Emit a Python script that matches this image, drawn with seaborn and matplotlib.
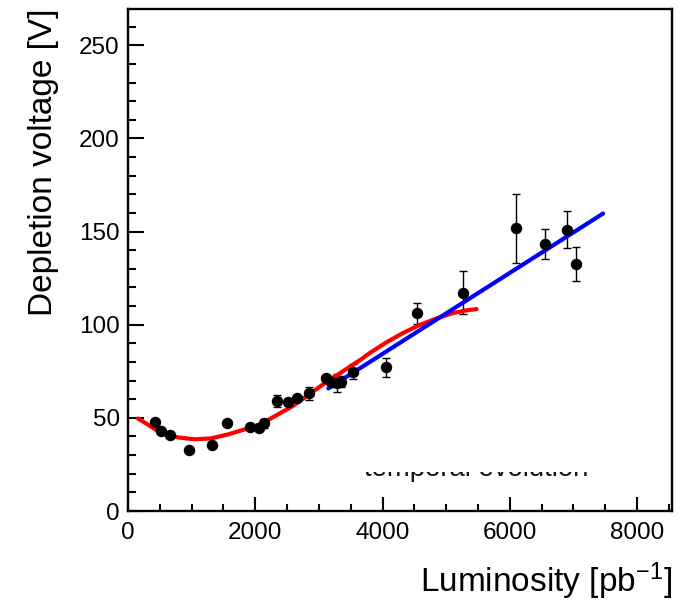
import numpy as np
import pandas as pd
import matplotlib
matplotlib.use("Agg")
import matplotlib.pyplot as plt
import seaborn as sns
from matplotlib.ticker import MultipleLocator
from matplotlib.transforms import Bbox, TransformedBbox

# ---- data ----
lumi = [419, 514, 655, 954, 1320, 1560, 1921, 2058, 2137, 2345, 2518, 2650,
        2848, 3106, 3189, 3288, 3346, 3539, 4053, 4535, 5267, 6106, 6551, 6897, 7038]
vdep = [47.9, 43.1, 40.6, 32.7, 35.2, 47.4, 45.2, 44.4, 47.1, 59.2, 58.6, 60.5,
        63.1, 71.2, 69.5, 68.5, 69.4, 74.7, 77.1, 106.1, 117.3, 151.8, 143.2, 151.1, 132.7]
verr = [1.0, 1.0, 1.0, 1.0, 1.0, 1.0, 1.0, 1.5, 2.5, 3.3, 1.5, 1.5,
        3.6, 2.0, 3.0, 4.8, 3.0, 4.0, 5.3, 5.6, 11.6, 18.5, 8.0, 9.7, 9.2]

# red fit curve
red_x = [157, 367, 524, 786, 1048, 1309, 1571, 1833, 2095, 2597, 3121, 3645,
         3800, 4050, 4325, 4580, 4849, 5111, 5300, 5478]
red_y = [49.7, 45.2, 41.7, 39.5, 38.5, 39.0, 41.1, 43.8, 46.8, 56.5, 69.3, 81.0,
         84.8, 90.3, 95.6, 99.8, 103.4, 106.3, 107.6, 108.4]

# blue linear fit (end points)
blue_x = [3147, 7467]
blue_y = [65.8, 159.7]

xlabel = r"Luminosity [pb$^{-1}$]"
ylabel = "Depletion voltage [V]"
hidden_text = "temporal evolution"

sns.set_style("white")
plt.rcParams['font.family'] = ['Liberation Sans', 'DejaVu Sans']
plt.rcParams['mathtext.fontset'] = 'custom'
plt.rcParams['mathtext.rm'] = 'Liberation Sans'
plt.rcParams['mathtext.it'] = 'Liberation Sans'

fig = plt.figure(figsize=(6.82, 6.05), dpi=100)
ax = fig.add_axes([128 / 682, 1 - 511 / 605, (672 - 128) / 682, (511 - 9) / 605])

df = pd.DataFrame({"x": lumi, "y": vdep, "e": verr})
dred = pd.DataFrame({"x": red_x, "y": red_y})
dblue = pd.DataFrame({"x": blue_x, "y": blue_y})

ax.errorbar(df["x"], df["y"], yerr=df["e"], fmt="none", ecolor="black",
            elinewidth=1.0, capsize=2.8, capthick=1.0, zorder=2)
sns.lineplot(data=dred, x="x", y="y", ax=ax, color="#ff0000", linewidth=3.0,
             sort=True, zorder=3)
sns.lineplot(data=dblue, x="x", y="y", ax=ax, color="#0000ff", linewidth=3.0,
             zorder=4)
sns.scatterplot(data=df, x="x", y="y", ax=ax, color="black", s=68,
                edgecolor="black", linewidth=0, zorder=5)

ax.set_xlim(0, 8550)
ax.set_ylim(0, 269.5)
ax.xaxis.set_major_locator(MultipleLocator(2000))
ax.xaxis.set_minor_locator(MultipleLocator(500))
ax.yaxis.set_major_locator(MultipleLocator(50))
ax.yaxis.set_minor_locator(MultipleLocator(10))
ax.tick_params(axis="both", which="both", direction="in", width=1.5,
               bottom=True, left=True, top=False, right=False,
               labelsize=17.5, colors="black", labelcolor="black")
ax.tick_params(axis="x", which="major", length=10, pad=8)
ax.tick_params(axis="x", which="minor", length=5)
ax.tick_params(axis="y", which="major", length=11.5, pad=6)
ax.tick_params(axis="y", which="minor", length=5.8)
for s in ax.spines.values():
    s.set_linewidth(1.7)
    s.set_color("black")

ax.set_xlabel(xlabel, fontsize=24, loc="right", labelpad=12, color="black")
ax.set_ylabel(ylabel, fontsize=24, loc="top", labelpad=14, color="black")

# partially clipped legend text
t = ax.text(5467, 19, hidden_text, fontsize=19.8, ha="center", va="baseline",
            color="#111111")
clip = TransformedBbox(Bbox([[0, 0], [1, 1 - 471.5 / 605]]), fig.transFigure)
t.set_clip_box(clip)
t.set_clip_on(True)

fig.savefig("out.png", dpi=100)
